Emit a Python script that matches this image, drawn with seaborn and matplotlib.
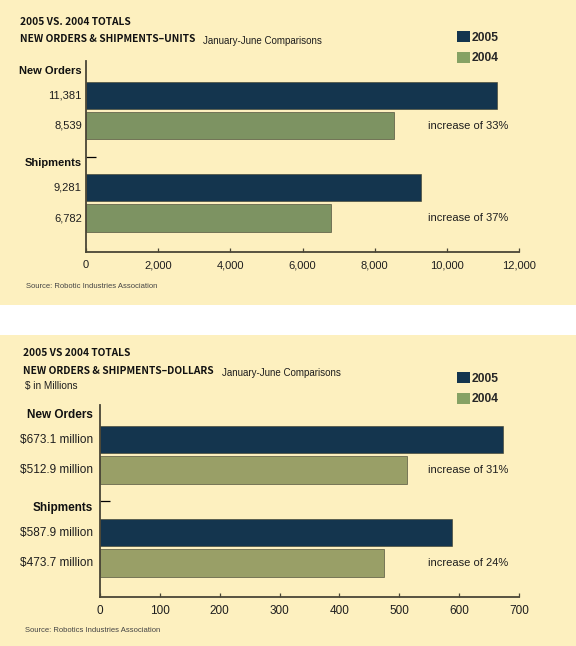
import matplotlib
matplotlib.use('Agg')
import matplotlib.pyplot as plt
import matplotlib.transforms as mtransforms
from matplotlib.patches import Rectangle
import seaborn as sns
import pandas as pd

# =================== Data ===================

CATEGORIES = ['New Orders', 'Shipments']
YEARS = ['2005', '2004']

UNITS_2005 = [11381, 9281]
UNITS_2004 = [8539, 6782]
UNITS_TICKS = [0, 2000, 4000, 6000, 8000, 10000, 12000]

DOLLARS_2005 = [673.1, 587.9]
DOLLARS_2004 = [512.9, 473.7]
DOLLARS_TICKS = [0, 100, 200, 300, 400, 500, 600, 700]

# =================== Style ===================

W, H = 576, 646
BG = '#fdf0bf'
NAVY = '#0b3657'
GREEN_UNITS = '#7e9b5a'
GREEN_DOLLARS = '#a0a85e'
LEGEND_2004 = '#86a264'
SPINE = '#4a4636'
TEXT = '#1e1e1e'
TITLE_FAMILY = ['Noto Sans CJK JP', 'Liberation Sans']

sns.set_style('ticks')
plt.rcParams['font.family'] = ['Liberation Sans', 'DejaVu Sans']


def fx(px):
    return px / W


def fy(py):
    return 1 - py / H


def make_frame(v05, v04):
    return pd.DataFrame({
        'Category': CATEGORIES * 2,
        'Year': ['2005'] * len(v05) + ['2004'] * len(v04),
        'Value': v05 + v04,
    })


def draw_panel(fig, rect, v05, v04, colors, ticks, tick_fmt, value_fmt, fs, lab_off, leg_y):
    ax = fig.add_axes(rect)
    df = make_frame(v05, v04)
    sns.barplot(data=df, x='Value', y='Category', hue='Year', order=CATEGORIES,
                hue_order=YEARS, palette=colors, orient='h', width=0.652, gap=0.1,
                errorbar=None, edgecolor='#3a3a2a', linewidth=0.4, ax=ax)
    ax.set_facecolor('none')
    ax.set_xlim(0, ticks[-1])
    ax.set_ylim(1.53, -0.535)
    ax.set_xticks(ticks, [tick_fmt(t) for t in ticks])
    ax.set_yticks([0.5], [''])
    ax.set_xlabel('')
    ax.set_ylabel('')
    ax.tick_params(axis='x', direction='in', length=3, width=0.9, color=SPINE,
                   pad=6, labelsize=fs, labelcolor=TEXT)
    ax.tick_params(axis='y', direction='in', length=7, width=0.9, color='black')
    for s in ['top', 'right']:
        ax.spines[s].set_visible(False)
    for s in ['left', 'bottom']:
        ax.spines[s].set_color(SPINE)
        ax.spines[s].set_linewidth(1.3)

    # value labels to the left of the axis, group names above the 2005 bars
    for cont, vals in zip(ax.containers, [v05, v04]):
        for bar, v in zip(cont, vals):
            yc = bar.get_y() + bar.get_height() / 2
            ax.annotate(value_fmt(v), xy=(0, yc), xycoords=ax.get_yaxis_transform(),
                        xytext=(-lab_off, 0), textcoords='offset points',
                        ha='right', va='center', fontsize=fs, color=TEXT)
    for bar, cat in zip(ax.containers[0], CATEGORIES):
        ax.annotate(cat, xy=(0, bar.get_y()), xycoords=ax.get_yaxis_transform(),
                    xytext=(-lab_off, 8), textcoords='offset points',
                    ha='right', va='center', fontsize=fs, fontweight='bold', color='#111111')

    # increase notes next to the 2004 bars
    trans = mtransforms.blended_transform_factory(fig.transFigure, ax.transData)
    for bar, a, b in zip(ax.containers[1], v05, v04):
        yc = bar.get_y() + bar.get_height() / 2
        pct = round((a / b - 1) * 100)
        ax.text(fx(428), yc, f'increase of {pct}%', transform=trans,
                ha='left', va='center', fontsize=8, color=TEXT)

    sns.move_legend(ax, 'upper left', bbox_to_anchor=(fx(457), fy(leg_y)),
                    bbox_transform=fig.transFigure, frameon=False, title=None,
                    handlelength=1.05, handleheight=1.05, handletextpad=0.15,
                    labelspacing=0.65, borderpad=0, borderaxespad=0,
                    prop={'size': 8.7, 'weight': 'bold'})
    handles = ax.get_legend().legend_handles
    for h in handles:
        h.set_edgecolor('none')
    handles[1].set_facecolor(LEGEND_2004)
    return ax


fig = plt.figure(figsize=(W / 100, H / 100), dpi=100, facecolor='white')

# yellow panel backgrounds
fig.patches.append(Rectangle((0, fy(305)), 1, 305 / H, transform=fig.transFigure,
                             facecolor=BG, edgecolor='none', zorder=-10))
fig.patches.append(Rectangle((0, 0), 1, fy(335), transform=fig.transFigure,
                             facecolor=BG, edgecolor='none', zorder=-10))

# =================== Top panel: units ===================

draw_panel(fig, [fx(86), fy(252), 433 / W, 191 / H], UNITS_2005, UNITS_2004,
           [NAVY, GREEN_UNITS], UNITS_TICKS, lambda t: f'{t:,}', lambda v: f'{v:,}',
           8, 3, 31)

# =================== Bottom panel: dollars ===================

draw_panel(fig, [fx(100), fy(597), 419 / W, 192 / H], DOLLARS_2005, DOLLARS_2004,
           [NAVY, GREEN_DOLLARS], DOLLARS_TICKS, lambda t: f'{t}', lambda v: f'${v} million',
           8.5, 5, 372)

# =================== Headlines ===================

heads = [
    fig.text(fx(20), fy(22), '2005 VS. 2004 TOTALS'),
    fig.text(fx(20), fy(39.5), 'NEW ORDERS & SHIPMENTS\u2013UNITS'),
    fig.text(fx(23), fy(353), '2005 VS 2004 TOTALS'),
    fig.text(fx(23), fy(371), 'NEW ORDERS & SHIPMENTS\u2013DOLLARS'),
]
for t in heads:
    t.set(family=TITLE_FAMILY, fontweight='bold', va='center', color='#111111', fontsize=10)
renderer = fig.canvas.get_renderer()
# scale the headline so the units subtitle spans its width in the original
size = 10 * 176 / heads[1].get_window_extent(renderer).width
for t in heads:
    t.set_fontsize(size)

for head, yc in [(heads[1], 41), (heads[3], 372.5)]:
    right = head.get_window_extent(renderer).x1
    fig.text(right / W + fx(8), fy(yc), 'January-June Comparisons', fontsize=7,
             va='center', color=TEXT)

fig.text(fx(25), fy(386), '$ in Millions', fontsize=7.2, va='center', color=TEXT)
fig.text(fx(26), fy(287), 'Source: Robotic Industries Association', fontsize=5.5,
         va='center', color='#444444')
fig.text(fx(25), fy(630), 'Source: Robotics Industries Association', fontsize=5.5,
         va='center', color='#444444')

fig.savefig('out.png', dpi=100)
